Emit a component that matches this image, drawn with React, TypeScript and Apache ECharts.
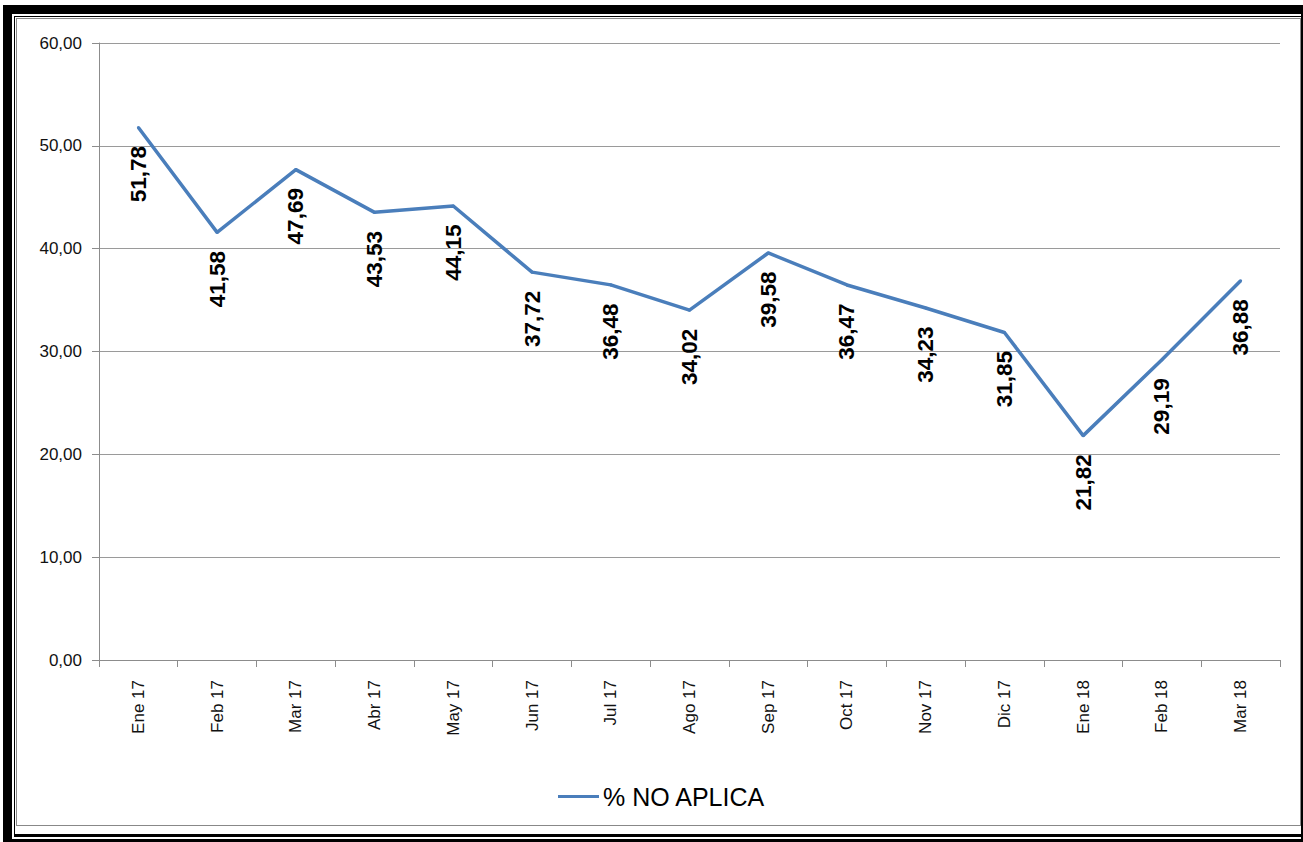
import React, { useEffect, useRef } from "react";
import * as echarts from "echarts";

const categories = [
  "Ene 17", "Feb 17", "Mar 17", "Abr 17", "May 17", "Jun 17", "Jul 17", "Ago 17",
  "Sep 17", "Oct 17", "Nov 17", "Dic 17", "Ene 18", "Feb 18", "Mar 18",
];
const noAplica = [
  51.78, 41.58, 47.69, 43.53, 44.15, 37.72, 36.48, 34.02, 39.58, 36.47, 34.23, 31.85, 21.82, 29.19, 36.88,
];
const seriesName = "% NO APLICA";

const fmt = (v: number) => v.toFixed(2).replace(".", ",");

export default function App() {
  const ref = useRef<HTMLDivElement>(null);
  useEffect(() => {
    if (!ref.current) return;
    const chart = echarts.init(ref.current, null, { renderer: "svg" });
    chart.setOption({
      animation: false,
      backgroundColor: "transparent",
      grid: { left: 99, right: 23, top: 43, bottom: 182, containLabel: false },
      legend: {
        data: [seriesName],
        left: 553,
        top: 779,
        icon: "rect",
        itemWidth: 41,
        itemHeight: 3,
        itemGap: 10,
        itemStyle: { color: "#4a7ebb", opacity: 1 },
        textStyle: { fontFamily: "Liberation Sans", fontSize: 25, color: "#000", padding: [0, 0, 0, -1] },
      },
      xAxis: {
        type: "category",
        data: categories,
        boundaryGap: true,
        axisLine: { show: true, lineStyle: { color: "#8c8c8c", width: 1 } },
        axisTick: { show: true, alignWithLabel: false, length: 7, lineStyle: { color: "#8c8c8c" } },
        axisLabel: {
          rotate: 90,
          margin: 20,
          interval: 0,
          fontFamily: "Liberation Sans",
          fontSize: 17,
          color: "#111",
        },
        splitLine: { show: false },
      },
      yAxis: {
        type: "value",
        min: 0,
        max: 60,
        interval: 10,
        axisLine: { show: true, lineStyle: { color: "#8c8c8c", width: 1 } },
        axisTick: { show: true, length: 7, lineStyle: { color: "#8c8c8c" } },
        axisLabel: {
          margin: 17,
          formatter: (v: number) => fmt(v),
          fontFamily: "Liberation Sans",
          fontSize: 17,
          color: "#111",
        },
        splitLine: { show: true, lineStyle: { color: "#9a9a9a", width: 1 } },
      },
      series: [
        {
          name: seriesName,
          type: "line",
          data: noAplica,
          symbol: "circle",
          symbolSize: 3,
          showSymbol: true,
          itemStyle: { color: "#4a7ebb" },
          lineStyle: { color: "#4a7ebb", width: 3.5 },
          label: {
            show: true,
            position: "bottom",
            distance: 17,
            rotate: 90,
            align: "right",
            verticalAlign: "middle",
            formatter: (p: any) => fmt(p.value),
            fontFamily: "Liberation Sans",
            fontWeight: "bold",
            fontSize: 22.5,
            color: "#000",
          },
        },
      ],
    });
    return () => chart.dispose();
  }, []);

  return (
    <div style={{ position: "absolute", left: 0, top: 0, width: 1303, height: 842, background: "#fff", overflow: "hidden" }}>
      <div style={{ position: "absolute", left: 3, top: 5, width: 1300, height: 837, boxSizing: "border-box", borderTop: "9px solid #000", borderLeft: "9px solid #000", borderRight: "2px solid #000", borderBottom: "3px solid #000" }} />
      <div style={{ position: "absolute", left: 14, top: 16, width: 1287, height: 821, boxSizing: "border-box", borderTop: "1px solid #000", borderLeft: "1px solid #000", borderBottom: "3px solid #000" }} />
      <div style={{ position: "absolute", left: 16, top: 18, width: 1285, height: 808, boxSizing: "border-box", border: "1px solid #888" }} />
      <div ref={ref} style={{ position: "absolute", left: 0, top: 0, width: 1303, height: 842 }} />
    </div>
  );
}
